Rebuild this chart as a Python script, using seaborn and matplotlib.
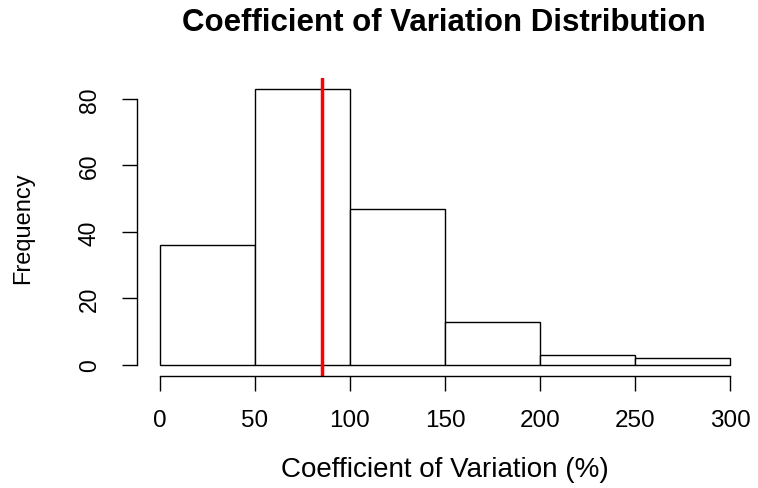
import matplotlib
matplotlib.use("Agg")
import matplotlib.pyplot as plt
import seaborn as sns
import numpy as np

bin_edges = [0, 50, 100, 150, 200, 250, 300]
counts = [36, 83, 47, 13, 3, 2]
mean_cv = 85.1
x_ticks = [0, 50, 100, 150, 200, 250, 300]
y_ticks = [0, 20, 40, 60, 80]

sns.set_style("white")
plt.rcParams['font.family'] = ['Liberation Sans', 'DejaVu Sans']

centers = [(a + b) / 2 for a, b in zip(bin_edges[:-1], bin_edges[1:])]

fig = plt.figure(figsize=(7.58, 4.89), dpi=100)
W, H = 758, 489
ax = fig.add_axes([137 / W, (H - 377) / H, (753 - 137) / W, (377 - 79) / H])

sns.histplot(x=centers, weights=counts, bins=bin_edges, ax=ax,
             color="white", edgecolor="black", linewidth=1.0, alpha=1)
ax.axvline(mean_cv, color="red", linewidth=2.5)

ax.set_xlim(-12, 312)
ax.set_ylim(-0.04 * 83, 83 * 1.04)

for s in ["top", "right"]:
    ax.spines[s].set_visible(False)
for s in ["left", "bottom"]:
    ax.spines[s].set_color("black")
    ax.spines[s].set_linewidth(1.0)
ax.spines["left"].set_bounds(0, 80)
ax.spines["bottom"].set_bounds(0, 300)

ax.set_xticks(x_ticks)
ax.set_yticks(y_ticks)
ax.tick_params(axis="both", bottom=True, left=True, direction="out", length=11,
               width=1.0, color="black", labelcolor="black", pad=13)
ax.tick_params(axis="x", labelsize=17.5)
ax.tick_params(axis="y", labelsize=16.5, labelrotation=90, pad=15)
for lab in ax.get_yticklabels():
    lab.set_va("center")

ax.set_xlabel("Coefficient of Variation (%)", fontsize=20, color="black", va="center")
ax.xaxis.set_label_coords((445 - 137) / 616, (377 - 470) / 298)
ax.set_ylabel("Frequency", fontsize=17, color="black", va="center")
ax.yaxis.set_label_coords((23 - 137) / 616, (377 - 228) / 298)

fig.text(444 / W, 1 - 23 / H, "Coefficient of Variation Distribution",
         fontsize=22.5, fontweight="bold", color="black", ha="center", va="center")

fig.savefig("out.png", dpi=100, facecolor="white")
